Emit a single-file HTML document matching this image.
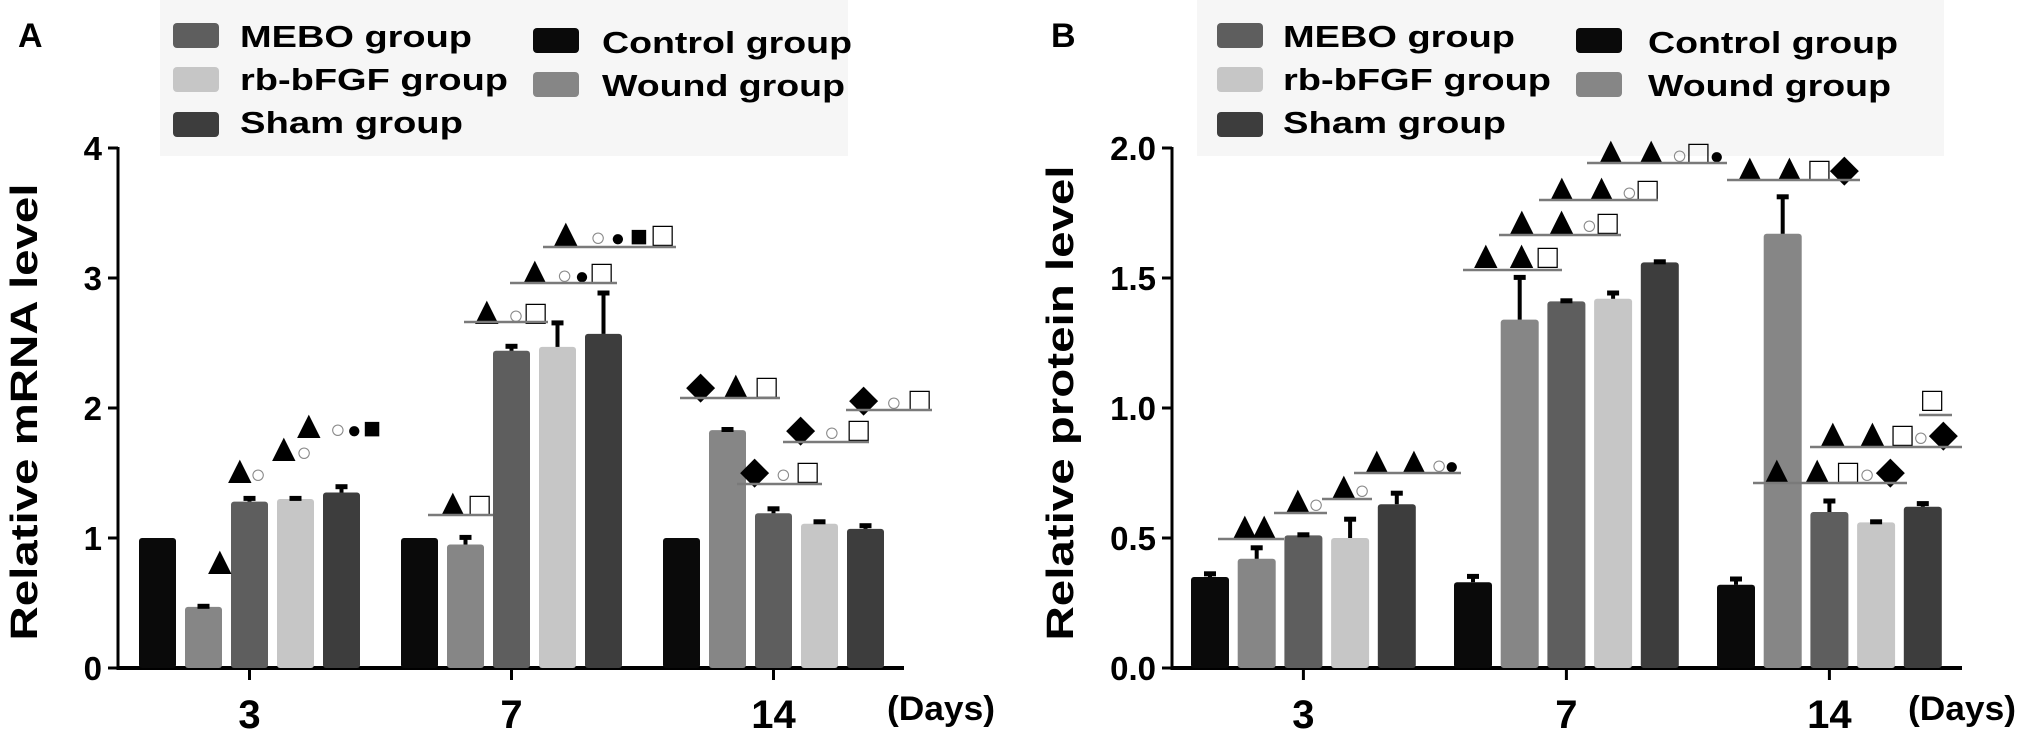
<!DOCTYPE html>
<html><head><meta charset="utf-8"><style>
html,body{margin:0;padding:0;background:#fff;}
svg{display:block;font-family:"Liberation Sans",Arial,sans-serif;}
</style></head><body>
<svg id="fig" width="2031" height="741" viewBox="0 0 2031 741" xmlns="http://www.w3.org/2000/svg"></svg>
<script>
// ---- data ----
const days = ["3","7","14"];
const groups = ["Control group","Wound group","MEBO group","rb-bFGF group","Sham group"];
const mrnaControl = [1.00,1.00,1.00];
const mrnaWound   = [0.47,0.95,1.83];
const mrnaMebo    = [1.28,2.44,1.19];
const mrnaRb      = [1.30,2.47,1.11];
const mrnaSham    = [1.35,2.57,1.07];
const mrnaErr = [[0,0,0],[0.02,0.07,0.02],[0.04,0.05,0.05],[0.02,0.20,0.03],[0.06,0.33,0.04]];
const protControl = [0.35,0.33,0.32];
const protWound   = [0.42,1.34,1.67];
const protMebo    = [0.51,1.41,0.60];
const protRb      = [0.50,1.42,0.56];
const protSham    = [0.63,1.56,0.62];
const protErr = [[0.02,0.03,0.03],[0.05,0.17,0.15],[0.01,0.01,0.05],[0.08,0.03,0.01],[0.05,0.01,0.02]];
const mrnaTicks = ["0","1","2","3","4"];
const protTicks = ["0.0","0.5","1.0","1.5","2.0"];

const colors = ["#0a0a0a","#868686","#5e5e5e","#c6c6c6","#3d3d3d"];
const glyphSize = {"▲":40,"◆":38,"□":34,"●":24,"■":30,"○":26};
const NS="http://www.w3.org/2000/svg";
const svg=document.getElementById('fig');
function mk(tag,attrs,parent){const e=document.createElementNS(NS,tag);for(const k in attrs)e.setAttribute(k,attrs[k]);(parent||svg).appendChild(e);return e;}

function panel(cfg){
  const g=mk('g',{});
  
  
  const base=668, top=148;
  const yS=v=>base-(v/cfg.ymax)*(base-top);
  const xS=(gi,si)=>cfg.x0+gi*cfg.gstep+si*cfg.bstep;
  const bg=mk('rect',{x:cfg.lgX,y:0,width:cfg.lgW,height:156,fill:"#f6f6f6"},g);
  
  
  const L=mk('text',{x:cfg.letterX,y:47,"font-size":34,"font-weight":"bold"},g);L.textContent=cfg.letter;
  
  
  cfg.legend.forEach(le=>{
    const lg=mk('g',{},g);
    
    
    mk('rect',{x:le.sx,y:le.sy,width:46,height:25,rx:4,fill:colors[le.i]},lg);
    const t=mk('text',{x:le.tx,y:le.ty,"font-size":31,"font-weight":"bold",textLength:le.w,lengthAdjust:"spacingAndGlyphs"},lg);
    t.textContent=groups[le.i];
  });
  const ya=mk('line',{x1:cfg.ax,y1:top-1,x2:cfg.ax,y2:base+2,stroke:"#000","stroke-width":3},g);
  
  
  const xa=mk('line',{x1:cfg.ax-1,y1:base,x2:cfg.axEnd,y2:base,stroke:"#000","stroke-width":4},g);
  
  
  cfg.ticks.forEach((lab,i)=>{
    const v=cfg.ymax*i/(cfg.ticks.length-1), y=yS(v);
    mk('line',{x1:cfg.ax-10,y1:y,x2:cfg.ax,y2:y,stroke:"#000","stroke-width":3},g);
    const t=mk('text',{x:cfg.ax-16,y:y+12,"font-size":33,"font-weight":"bold","text-anchor":"end"},g);
    t.textContent=lab;
    
    
  });
  const yt=mk('text',{transform:`translate(${cfg.ytX},${cfg.ytY}) rotate(-90)`,"font-size":38,"font-weight":"bold","text-anchor":"middle",textLength:cfg.ytLen,lengthAdjust:"spacingAndGlyphs"},g);
  yt.textContent=cfg.ytitle;
  
  
  cfg.series.forEach((arr,si)=>{
    arr.forEach((v,gi)=>{
      const x=xS(gi,si), y=yS(v), w=cfg.bw;
      const b=mk('rect',{x:x,y:y,width:w,height:base-y,fill:colors[si],rx:3},g);
      
      
      const e=cfg.err[si][gi];
      if(e>0){
        const cx=x+w/2, ey=yS(v+e);
        mk('line',{x1:cx,y1:y,x2:cx,y2:ey,stroke:"#000","stroke-width":4},g);
        mk('line',{x1:cx-6,y1:ey+2,x2:cx+6,y2:ey+2,stroke:"#000","stroke-width":5},g);
      }
    });
  });
  days.forEach((d,gi)=>{
    const cx=xS(gi,2)+cfg.bw/2;
    mk('line',{x1:cx,y1:base,x2:cx,y2:base+12,stroke:"#000","stroke-width":3},g);
    const t=mk('text',{x:cx,y:728,"font-size":40,"font-weight":"bold","text-anchor":"middle"},g);
    t.textContent=d;
    
    
  });
  const dd=mk('text',{x:cfg.daysX,y:720,"font-size":34,"font-weight":"bold",textLength:108,lengthAdjust:"spacingAndGlyphs"},g);
  dd.textContent="(Days)";
  
  
  cfg.ann.forEach(a=>{
    const ag=mk('g',{},g);
    
    
    const t=mk('text',{x:a[1],y:a[3]+11,textLength:a[2]-a[1],lengthAdjust:"spacing"},ag);
    [...a[0]].forEach(ch=>{
      const s=mk('tspan',{fill:ch==="○"?"#8a8a8a":"#000","font-size":glyphSize[ch]||28},t);
      s.textContent=ch;
    });
    if(a[4]!=null) mk('line',{x1:a[4],y1:a[6],x2:a[5],y2:a[6],stroke:"#7a7a7a","stroke-width":2.5},ag);
  });
}

panel({name:"panel-a-mrna-chart",letter:"A",letterX:18,ymax:4,ticks:mrnaTicks,
  x0:139,gstep:262,bstep:46,bw:37,ax:118,axEnd:904,daysX:887,
  ytitle:"Relative mRNA level",ytX:37,ytY:412,ytLen:457,
  lgX:160,lgW:688,
  legend:[{i:2,sx:173,sy:23,tx:240,ty:47,w:232},{i:3,sx:173,sy:67,tx:240,ty:90,w:268},{i:4,sx:173,sy:112,tx:240,ty:133,w:223},
          {i:0,sx:533,sy:28,tx:602,ty:53,w:250},{i:1,sx:533,sy:72,tx:602,ty:96,w:243}],
  series:[mrnaControl,mrnaWound,mrnaMebo,mrnaRb,mrnaSham],err:mrnaErr,
  ann:[["▲",200,224,563,null],["▲○",220,266,472,null],["▲○",264,312,450,null],["▲○●■",289,381,427,null],
       ["▲□",433,490,505,428,493,515],["▲○□",467,546,313,464,548,322],["▲○●□",515,612,273,510,617,283],["▲○●■□",546,673,235,543,676,247],
       ["◆▲□",686,777,387,680,780,398],["◆○□",740,818,472,737,822,484],["◆○□",786,869,430,783,869,442],["◆○□",849,930,400,846,932,410]]
});
panel({name:"panel-b-protein-chart",letter:"B",letterX:1051,ymax:2,ticks:protTicks,
  x0:1191,gstep:263,bstep:46.7,bw:38,ax:1172,axEnd:1962,daysX:1908,
  ytitle:"Relative protein level",ytX:1073,ytY:403,ytLen:475,
  lgX:1197,lgW:747,
  legend:[{i:2,sx:1217,sy:23,tx:1283,ty:47,w:232},{i:3,sx:1217,sy:67,tx:1283,ty:90,w:268},{i:4,sx:1217,sy:112,tx:1283,ty:133,w:223},
          {i:0,sx:1576,sy:28,tx:1648,ty:53,w:250},{i:1,sx:1576,sy:72,tx:1648,ty:96,w:243}],
  series:[protControl,protWound,protMebo,protRb,protSham],err:protErr,
  ann:[["▲▲",1225,1284,528,1218,1284,539],["▲○",1278,1324,502,1274,1327,513],["▲○",1324,1370,488,1322,1372,499],["▲▲○●",1357,1459,463,1354,1461,473],
       ["▲▲□",1466,1558,257,1463,1562,270],["▲▲○□",1502,1618,223,1499,1621,235],["▲▲○□",1542,1658,190,1539,1658,200],["▲▲○□●",1591,1724,153,1587,1727,163],
       ["▲▲□◆",1730,1859,170,1727,1860,180],["□",1922,1945,400,1919,1952,415],["▲▲□○◆",1813,1958,435,1810,1962,447],["▲▲□○◆",1757,1905,472,1753,1907,483]]
});
</script>
</body></html>
